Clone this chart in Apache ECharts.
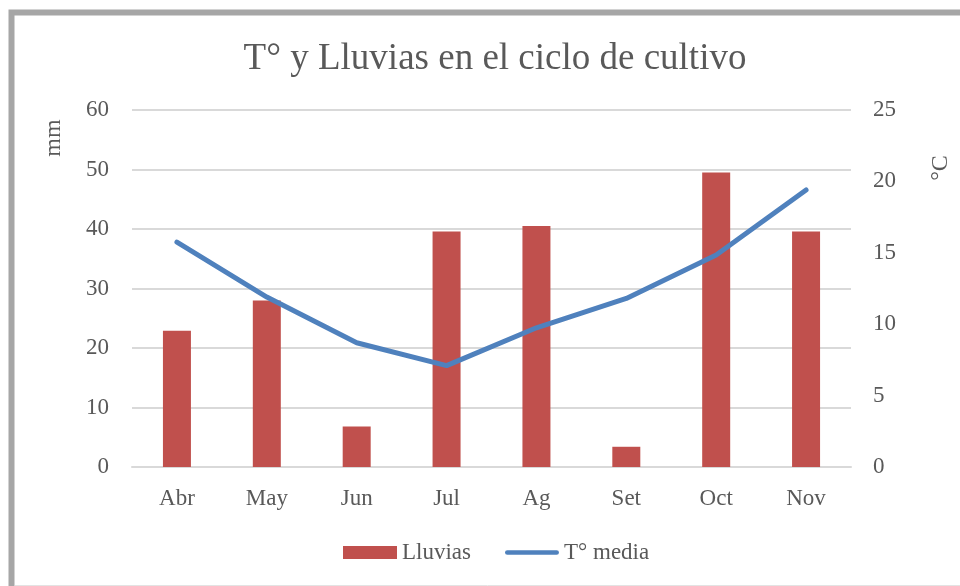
<!DOCTYPE html>
<html><head><meta charset="utf-8">
<script src="https://cdn.jsdelivr.net/npm/echarts@6/dist/echarts.min.js"></script>
<style>html,body{margin:0;padding:0;background:#fff}#c{width:960px;height:586px}</style>
</head><body><div id="c"></div>
<script>
const categories = ['Abr','May','Jun','Jul','Ag','Set','Oct','Nov'];
const lluvias = [22.9, 28.0, 6.8, 39.6, 40.5, 3.4, 49.5, 39.6];
const tMedia = [15.75, 11.9, 8.7, 7.1, 9.75, 11.8, 14.85, 19.4];
const titleText = 'T° y Lluvias en el ciclo de cultivo';
const leftName = 'mm';
const rightName = '°C';
const FONT = 'Liberation Serif';
const TXT = '#595959';
const chart = echarts.init(document.getElementById('c'), null, {renderer:'canvas'});
chart.setOption({
  animation:false,
  backgroundColor:'#fff',
  graphic:[
    {type:'rect', shape:{x:11.5,y:12.5,width:1100,height:1100}, style:{fill:'none',stroke:'#a6a6a6',lineWidth:6}, z:100},
    {type:'line', shape:{x1:15,y1:585.5,x2:960,y2:585.5}, style:{stroke:'#e3e3e3',lineWidth:1}},
    {type:'text', x:54, y:138, rotation:Math.PI/2,
     style:{text:leftName, font:'24px "Liberation Serif"', fill:TXT, align:'center', verticalAlign:'middle'}},
    {type:'text', x:941, y:168, rotation:Math.PI/2,
     style:{text:rightName, font:'24px "Liberation Serif"', fill:TXT, align:'center', verticalAlign:'middle'}}
  ],
  title:{text:titleText, left:490, textAlign:'center', top:36,
    textStyle:{fontFamily:FONT, fontSize:37, fontWeight:'normal', color:TXT}},
  grid:{left:132, right:109, top:110, bottom:119},
  legend:{bottom:17, left:338, itemGap:34, itemWidth:54, itemHeight:13, symbolKeepAspect:true,
    textStyle:{fontFamily:FONT, fontSize:23, color:TXT},
    data:[{name:'Lluvias', icon:'rect'},
          {name:'T° media', icon:'path://M2.5,0L54.5,0A2.5,2.5,0,0,1,54.5,5L2.5,5A2.5,2.5,0,0,1,2.5,0Z',
           itemStyle:{color:'#4f81bd', borderWidth:0}}]},
  xAxis:{type:'category', data:categories,
    axisLine:{lineStyle:{color:'#d9d9d9', width:2}}, axisTick:{show:false},
    axisLabel:{fontFamily:FONT, fontSize:23, color:TXT, margin:20}},
  yAxis:[
    {type:'value', min:0, max:60, interval:10,
     axisLabel:{fontFamily:FONT, fontSize:23, color:TXT, margin:23},
     splitLine:{lineStyle:{color:'#d9d9d9', width:2}}, axisLine:{show:false}, axisTick:{show:false}},
    {type:'value', min:0, max:25, interval:5,
     axisLabel:{fontFamily:FONT, fontSize:23, color:TXT, margin:22},
     splitLine:{show:false}, axisLine:{show:false}, axisTick:{show:false}}
  ],
  series:[
    {name:'Lluvias', type:'bar', data:lluvias, barWidth:28, yAxisIndex:0,
     itemStyle:{color:'#c0504d'}},
    {name:'T° media', type:'line', data:tMedia, yAxisIndex:1, showSymbol:false, symbol:'none',
     lineStyle:{color:'#4f81bd', width:5, cap:'round', join:'round'}, itemStyle:{color:'#4f81bd'}}
  ]
});
</script></body></html>
